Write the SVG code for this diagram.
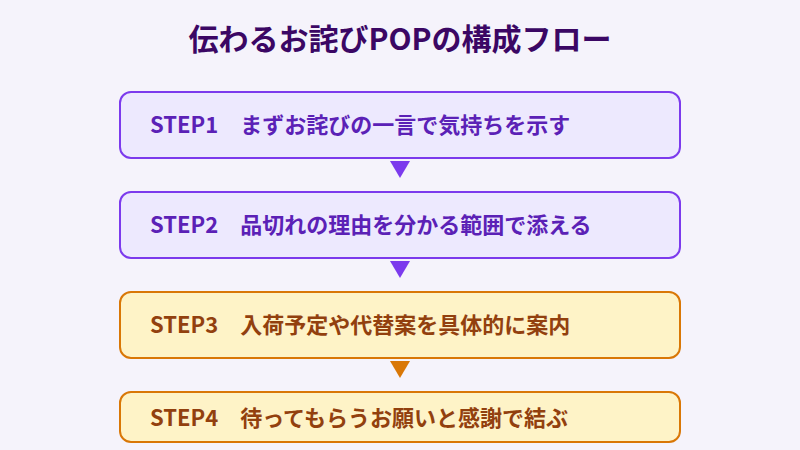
<svg xmlns="http://www.w3.org/2000/svg" width="800" height="450" viewBox="0 0 800 450">
<style>
.title{font-family:"Noto Sans CJK JP","Noto Sans",sans-serif;font-weight:700;font-size:30px;fill:#3b0764}
.lbl{font-family:"Noto Sans CJK JP","Noto Sans",sans-serif;font-weight:700;font-size:22px}
.p rect{fill:#ede9fe;stroke:#7c3aed;stroke-width:2}
.p text{fill:#5b21b6}
.o rect{fill:#fef3c7;stroke:#d97706;stroke-width:2}
.o text{fill:#92400e}
.ap{fill:#7c3aed}
.ao{fill:#d97706}
</style>
<rect width="800" height="450" fill="#f5f3fb"/>
<text class="title" x="400" y="50" text-anchor="middle">伝わるお詫びPOPの構成フロー</text>
<g id="connectors">
<polygon class="ap" points="390,161 410,161 400,178"/>
<polygon class="ap" points="390,261 410,261 400,278"/>
<polygon class="ao" points="390,361 410,361 400,378"/>
</g>
<g id="step1" class="p">
<rect x="120" y="92" width="560" height="66" rx="11"/>
<text class="lbl" x="150" y="132.5">STEP1　まずお詫びの一言で気持ちを示す</text>
</g>
<g id="step2" class="p">
<rect x="120" y="192" width="560" height="66" rx="11"/>
<text class="lbl" x="150" y="232.5">STEP2　品切れの理由を分かる範囲で添える</text>
</g>
<g id="step3" class="o">
<rect x="120" y="292" width="560" height="66" rx="11"/>
<text class="lbl" x="150" y="332.5">STEP3　入荷予定や代替案を具体的に案内</text>
</g>
<g id="step4" class="o">
<rect x="120" y="392" width="560" height="50" rx="11"/>
<text class="lbl" x="150" y="425.5">STEP4　待ってもらうお願いと感謝で結ぶ</text>
</g>
</svg>
